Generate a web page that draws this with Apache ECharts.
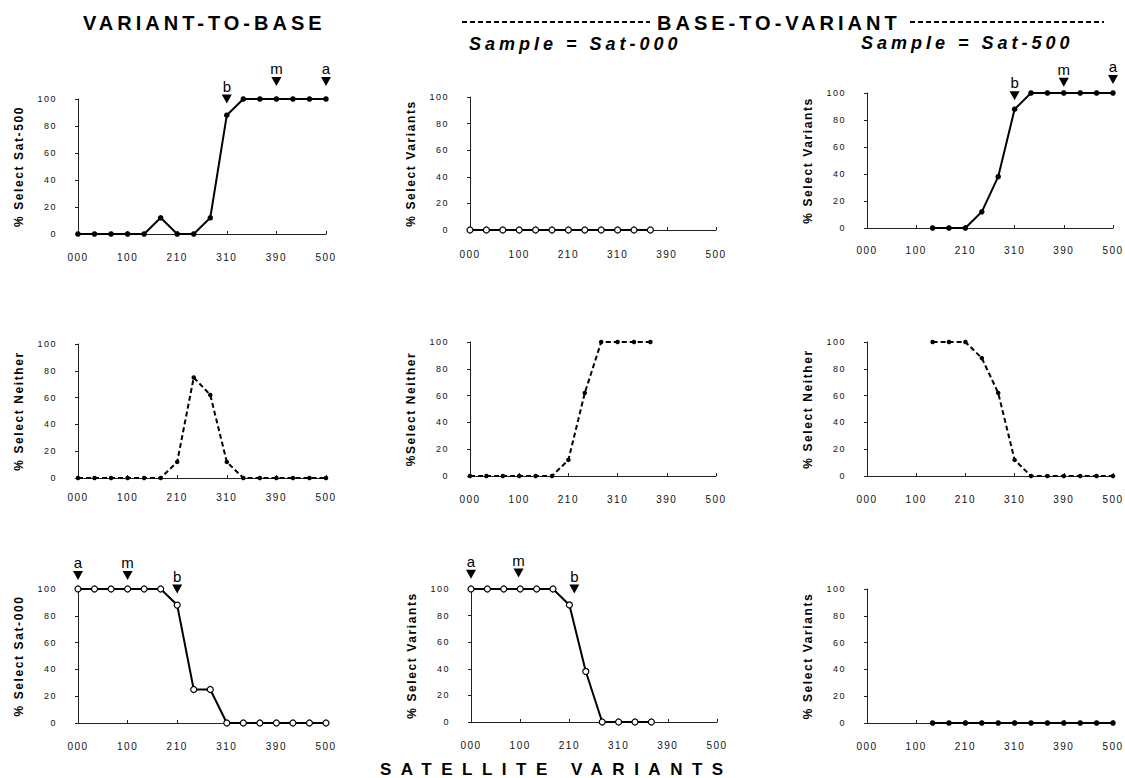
<!DOCTYPE html>
<html><head><meta charset="utf-8">
<script src="https://cdn.jsdelivr.net/npm/echarts@6/dist/echarts.min.js"></script>
<style>html,body{margin:0;padding:0;background:#fff}#c{width:1125px;height:778px}</style>
</head><body><div id="c"></div>
<script>
// ---- data ----
const xTickLabels = ['000', '100', '210', '310', '390', '500']; // every 3rd of 16 variant positions
const yTicks = [0, 20, 40, 60, 80, 100];

// Variant-to-base
const v2bSelectSat500 = [0, 0, 0, 0, 0, 12, 0, 0, 12, 88, 100, 100, 100, 100, 100, 100];
const v2bSelectNeither = [0, 0, 0, 0, 0, 0, 12, 75, 62, 12, 0, 0, 0, 0, 0, 0];
const v2bSelectSat000 = [100, 100, 100, 100, 100, 100, 88, 25, 25, 0, 0, 0, 0, 0, 0, 0];
// Base-to-variant, sample = Sat-000
const s000SelectVariantsTop = [0, 0, 0, 0, 0, 0, 0, 0, 0, 0, 0, 0, null, null, null, null];
const s000SelectNeither = [0, 0, 0, 0, 0, 0, 12, 62, 100, 100, 100, 100, null, null, null, null];
const s000SelectVariantsBottom = [100, 100, 100, 100, 100, 100, 88, 38, 0, 0, 0, 0, null, null, null, null];
// Base-to-variant, sample = Sat-500
const s500SelectVariantsTop = [null, null, null, null, 0, 0, 0, 12, 38, 88, 100, 100, 100, 100, 100, 100];
const s500SelectNeither = [null, null, null, null, 100, 100, 100, 88, 62, 12, 0, 0, 0, 0, 0, 0];
const s500SelectVariantsBottom = [null, null, null, null, 0, 0, 0, 0, 0, 0, 0, 0, 0, 0, 0, 0];

// boundary annotations [label, position index, value]
const marks1 = [['b', 9, 100], ['m', 12, 113], ['a', 15, 113]];
const marks3 = [['b', 9, 98], ['m', 12, 108], ['a', 15, 110]];
const marks7 = [['a', 0, 110], ['m', 3, 110], ['b', 6, 100]];
const marks8 = [['a', 0, 111], ['m', 2.9, 112], ['b', 6.3, 100]];

// ---- layout ----
const FONT = '"Liberation Sans", Arial, Helvetica, sans-serif';
const panels = [
  { g: [78, 99, 248, 135], name: '% Select Sat-500', data: v2bSelectSat500, kind: 'filled', marks: marks1, xo: 11 },
  { g: [470, 97, 246, 133], name: '% Select Variants', data: s000SelectVariantsTop, kind: 'open', xo: 12 },
  { g: [867, 93, 246, 135], name: '% Select Variants', data: s500SelectVariantsTop, kind: 'filled', marks: marks3, xo: 10 },
  { g: [78, 344, 248, 134], name: '% Select Neither', data: v2bSelectNeither, kind: 'dashed', xo: 7 },
  { g: [470, 342, 246, 134], name: '%Select Neither', data: s000SelectNeither, kind: 'dashed', xo: 11 },
  { g: [867, 342, 246, 134], name: '% Select Neither', data: s500SelectNeither, kind: 'dashed', xo: 11 },
  { g: [78, 589, 248, 134], name: '% Select Sat-000', data: v2bSelectSat000, kind: 'open', marks: marks7, xo: 11 },
  { g: [471, 589, 246, 133], name: '% Select Variants', data: s000SelectVariantsBottom, kind: 'open', marks: marks8, xo: 11 },
  { g: [867, 589, 246, 134], name: '% Select Variants', data: s500SelectVariantsBottom, kind: 'filled', xo: 11 }
];

const grid = [], xAxis = [], yAxis = [], series = [];
panels.forEach((p, i) => {
  grid.push({ left: p.g[0], top: p.g[1], width: p.g[2], height: p.g[3], containLabel: false });
  xAxis.push({
    type: 'value', gridIndex: i, min: 0, max: 15, interval: 3, offset: p.xo,
    axisLine: { show: true, lineStyle: { color: '#222', width: 1 } },
    axisTick: { show: true, inside: true, length: 3, lineStyle: { color: '#222' } },
    splitLine: { show: false },
    axisLabel: { color: '#111', fontSize: 10, fontFamily: FONT, margin: 7,
      formatter: v => xTickLabels[Math.round(v / 3)] }
  });
  yAxis.push({
    type: 'value', gridIndex: i, min: 0, max: 100, interval: 20, offset: 15,
    name: p.name, nameLocation: 'middle', nameGap: 38,
    nameTextStyle: { color: '#000', fontSize: 12, fontWeight: 'bold', fontFamily: FONT },
    axisLine: { show: true, lineStyle: { color: '#222', width: 1 } },
    axisTick: { show: true, length: 3, lineStyle: { color: '#222' } },
    splitLine: { show: false },
    axisLabel: { color: '#111', fontSize: 9, fontFamily: FONT, margin: 6 }
  });
  const pts = [];
  p.data.forEach((v, k) => { if (v !== null) pts.push([k, v]); });
  const s = {
    type: 'line', xAxisIndex: i, yAxisIndex: i, data: pts, clip: false,
    symbol: 'circle', showSymbol: true, z: 3,
    lineStyle: { color: '#000', width: 2 },
    itemStyle: { color: '#000', opacity: 1 }, emphasis: { disabled: true }
  };
  if (p.kind === 'filled') { s.symbolSize = 5.5; }
  if (p.kind === 'open') { s.symbolSize = 6; s.itemStyle = { color: '#fff', borderColor: '#000', borderWidth: 1.2, opacity: 1 }; }
  if (p.kind === 'dashed') { s.symbolSize = 4.5; s.lineStyle = { color: '#000', width: 2, type: [5, 3] }; }
  series.push(s);
  if (p.marks) {
    series.push({
      type: 'scatter', xAxisIndex: i, yAxisIndex: i, clip: false, z: 4,
      data: p.marks.map(m => ({ value: [m[1], m[2]], name: m[0] })),
      symbol: 'triangle', symbolRotate: 180, symbolSize: [10, 9],
      itemStyle: { color: '#000', opacity: 1 }, emphasis: { disabled: true },
      label: { show: true, position: 'top', distance: 1, formatter: '{b}',
        color: '#000', fontSize: 15, fontFamily: FONT }
    });
  }
});

const graphic = [
  { type: 'text', x: 83, y: 23, style: { text: 'VARIANT-TO-BASE', font: 'bold 20px ' + FONT, fill: '#000', textAlign: 'left', textVerticalAlign: 'middle' } },
  { type: 'line', shape: { x1: 462, y1: 22, x2: 650, y2: 22 }, style: { stroke: '#000', lineWidth: 2, lineDash: [5, 3] } },
  { type: 'text', x: 657, y: 23, style: { text: 'BASE-TO-VARIANT', font: 'bold 20px ' + FONT, fill: '#000', textAlign: 'left', textVerticalAlign: 'middle' } },
  { type: 'line', shape: { x1: 910, y1: 22, x2: 1104, y2: 22 }, style: { stroke: '#000', lineWidth: 2, lineDash: [5, 3] } },
  { type: 'text', x: 469, y: 44, style: { text: 'Sample = Sat-000', font: 'italic bold 18px ' + FONT, fill: '#000', textAlign: 'left', textVerticalAlign: 'middle' } },
  { type: 'text', x: 861, y: 43, style: { text: 'Sample = Sat-500', font: 'italic bold 18px ' + FONT, fill: '#000', textAlign: 'left', textVerticalAlign: 'middle' } },
  { type: 'text', x: 380, y: 769, style: { text: 'SATELLITE VARIANTS', font: 'bold 17px ' + FONT, fill: '#000', textAlign: 'left', textVerticalAlign: 'middle' } }
];

const chart = echarts.init(document.getElementById('c'), null, { renderer: 'svg' });
chart.setOption({ animation: false, backgroundColor: '#fff', grid, xAxis, yAxis, series, graphic });

// letter spacing as in the original typesetting
const spacing = {
  'VARIANT-TO-BASE': 4, 'BASE-TO-VARIANT': 4,
  'Sample = Sat-000': 4, 'Sample = Sat-500': 4, 'SATELLITE VARIANTS': 9.5
};
function applySpacing() {
  document.querySelectorAll('#c text').forEach(t => {
    const s = t.textContent;
    if (spacing[s] !== undefined) t.style.letterSpacing = spacing[s] + 'px';
    else if (s.indexOf('Select') >= 0) t.style.letterSpacing = '1.6px';
    else if (xTickLabels.indexOf(s) >= 0) t.style.letterSpacing = '1.5px';
    else if (yTicks.map(String).indexOf(s) >= 0) t.style.letterSpacing = '1.5px';
  });
}
chart.on('finished', applySpacing);
applySpacing();
setTimeout(applySpacing, 0);
</script>
</body></html>
